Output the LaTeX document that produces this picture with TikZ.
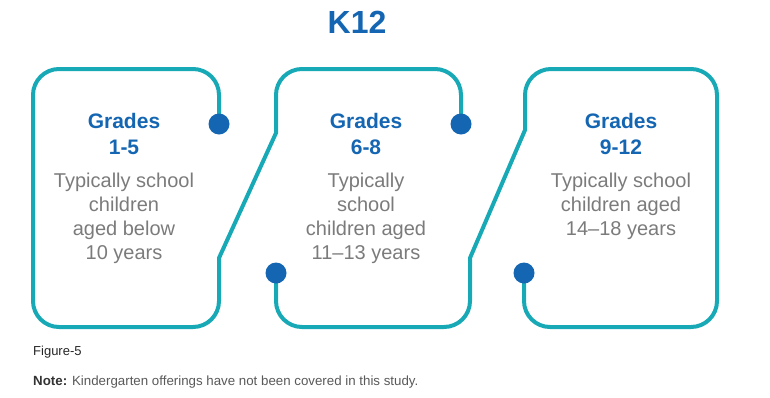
\documentclass[tikz,border=0pt]{standalone}
\usepackage{fontspec}
\setmainfont{Liberation Sans}
\usetikzlibrary{positioning}
\definecolor{tealline}{HTML}{17A9B6}
\definecolor{dotblue}{HTML}{1466B3}
\definecolor{textgray}{HTML}{7B7B7B}
\tikzset{
  outline/.style={draw=tealline, line width=4pt, rounded corners=26pt},
  dotnode/.style={circle, fill=dotblue, inner sep=0pt, minimum size=21pt},
  grade/.style={text=dotblue, font=\bfseries\fontsize{21}{26}\selectfont, align=center, inner sep=0pt},
  info/.style={text=textgray, font=\fontsize{20}{24}\selectfont, align=center, inner sep=0pt},
}
\begin{document}
\begin{tikzpicture}[x=1pt,y=-1pt]
    \useasboundingbox (0,0) rectangle (770,397);

    \node[anchor=base, text=dotblue, font=\bfseries\fontsize{32}{36}\selectfont] (title) at (357,33) {K12};

    \coordinate (d1) at (219,124);
    \coordinate (d2) at (461,124);
    \coordinate (d3) at (276,273);
    \coordinate (d4) at (524,273);

    \draw[outline] (d1) -- (219,69) -- (33,69) -- (33,327) -- (219,327)
        [sharp corners] -- (219,258) -- (276,133) [rounded corners=26pt] -- (276,69) -- (461,69) -- (d2);
    \draw[outline] (d3) -- (276,327) -- (470,327)
        [sharp corners] -- (470,258) -- (525,130) [rounded corners=26pt] -- (525,69) -- (717,69) -- (717,327) -- (524,327) -- (d4);

    \foreach \d in {d1,d2,d3,d4}
        \node[dotnode] at (\d) {};

    \node[grade, anchor=north] (g1) at (124,113) {Grades\\1-5};
    \node[info, below=18pt of g1] (t1) {Typically school\\children\\aged below\\10 years};

    \node[grade, anchor=north] (g2) at (366,113) {Grades\\6-8};
    \node[info, below=18pt of g2] (t2) {Typically\\school\\children aged\\11–13 years};

    \node[grade, anchor=north] (g3) at (621,113) {Grades\\9-12};
    \node[info, below=18pt of g3] (t3) {Typically school\\children aged\\14–18 years};

    \node[anchor=base west, inner sep=0pt, text=black!85, font=\fontsize{13}{15}\selectfont] (fig) at (33,355) {Figure-5};
    \node[anchor=base west, inner sep=0pt, text=black!65, font=\fontsize{13.3}{15}\selectfont] (note) at (33,385)
        {\textbf{\color{black!80}Note:} Kindergarten offerings have not been covered in this study.};
\end{tikzpicture}
\end{document}
